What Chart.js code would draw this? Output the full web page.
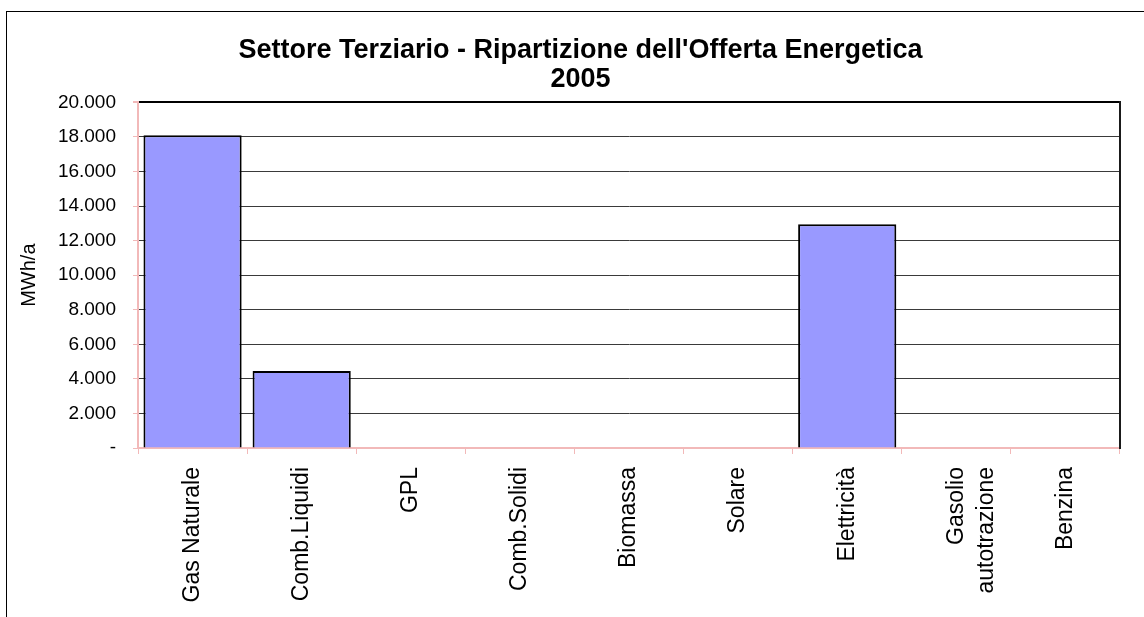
<!DOCTYPE html>
<html>
<head>
<meta charset="utf-8">
<title>Settore Terziario - Ripartizione dell'Offerta Energetica 2005</title>
<script src="https://cdn.jsdelivr.net/npm/chart.js@4.4.1/dist/chart.umd.min.js"></script>
<style>
    html, body { margin: 0; padding: 0; background: #ffffff; }
    #wrap { width: 1144px; height: 617px; position: relative; }
</style>
</head>
<body>
<div id="wrap"><canvas id="offertaChart"></canvas></div>
<script>
// data
const categories = [
    'Gas Naturale', 'Comb.Liquidi', 'GPL', 'Comb.Solidi', 'Biomassa',
    'Solare', 'Elettricità', ['Gasolio', 'autotrazione'], 'Benzina'
];
const offertaMWh = [18100, 4450, 0, 0, 0, 0, 12950, 0, 0];
const titleLines = ["Settore Terziario - Ripartizione dell'Offerta Energetica", '2005'];
const yAxisTitle = 'MWh/a';
const yMin = 0;
const yMax = 20000;
const yStep = 2000;

const AXIS_PINK = '#f2b9b9';

Chart.defaults.font.family = "'Liberation Sans', Arial, sans-serif";
Chart.defaults.color = '#000000';

// 20000 -> "20.000", 0 -> "-"
function formatTick(value) {
    if (value === 0) {
        return '-';
    }
    return String(value).replace(/\B(?=(\d{3})+(?!\d))/g, '.');
}

// thin black frame round the whole picture (left + top visible)
const outerFrame = {
    id: 'outerFrame',
    beforeDraw(chart) {
        const ctx = chart.ctx;
        ctx.save();
        ctx.strokeStyle = '#000000';
        ctx.lineWidth = 1;
        ctx.strokeRect(6.5, 11.5, chart.width + 10, chart.height + 10);
        ctx.restore();
    }
};

const ctx = document.getElementById('offertaChart').getContext('2d');
const chart = new Chart(ctx, {
    type: 'bar',
    data: {
        labels: categories,
        datasets: [{
            label: yAxisTitle,
            data: offertaMWh,
            backgroundColor: '#9999ff',
            borderColor: '#000000',
            borderWidth: 2,
            barPercentage: 0.9,
            categoryPercentage: 1.0
        }]
    },
    options: {
        responsive: true,
        maintainAspectRatio: false,
        animation: false,
        layout: {
            padding: { left: 17, right: 0, top: 36, bottom: 0 }
        },
        plugins: {
            legend: { display: false },
            tooltip: { enabled: false },
            title: {
                display: true,
                text: titleLines,
                color: '#000000',
                font: { size: 27, weight: 'bold', lineHeight: 1.08 },
                padding: { top: 0, bottom: 8 }
            }
        },
        scales: {
            x: {
                offset: true,
                grid: {
                    offset: true,
                    drawOnChartArea: false,
                    drawTicks: true,
                    tickLength: 6,
                    tickColor: AXIS_PINK
                },
                border: { display: true, color: AXIS_PINK, width: 2 },
                ticks: {
                    minRotation: 90,
                    maxRotation: 90,
                    autoSkip: false,
                    padding: 13,
                    color: '#000000',
                    font: { size: 23, lineHeight: 1.3 }
                },
                afterFit(scale) {
                    scale.height = 169;
                }
            },
            y: {
                min: yMin,
                max: yMax,
                ticks: {
                    stepSize: yStep,
                    padding: 17,
                    color: '#000000',
                    font: { size: 19 },
                    callback: formatTick
                },
                grid: {
                    color: (c) => {
                        if (c.tick && c.tick.value === yMax) return '#000000';
                        if (c.tick && c.tick.value === yMin) return 'rgba(0,0,0,0)';
                        return '#3a3a3a';
                    },
                    lineWidth: (c) => (c.tick && c.tick.value === yMax ? 2 : 1),
                    tickColor: AXIS_PINK,
                    tickLength: 5
                },
                border: { display: true, color: AXIS_PINK, width: 2 },
                title: {
                    display: true,
                    text: yAxisTitle,
                    color: '#000000',
                    font: { size: 20 },
                    padding: { top: 0, bottom: 0 }
                },
                afterFit(scale) {
                    scale.width = 121;
                }
            },
            // only used for the dark right edge of the plot
            yRight: {
                position: 'right',
                min: yMin,
                max: yMax,
                grid: { display: false, drawTicks: false },
                ticks: { display: false },
                border: { display: true, color: '#1a1a1a', width: 2 },
                afterFit(scale) {
                    scale.width = 24;
                }
            }
        }
    },
    plugins: [outerFrame]
});
</script>
</body>
</html>
